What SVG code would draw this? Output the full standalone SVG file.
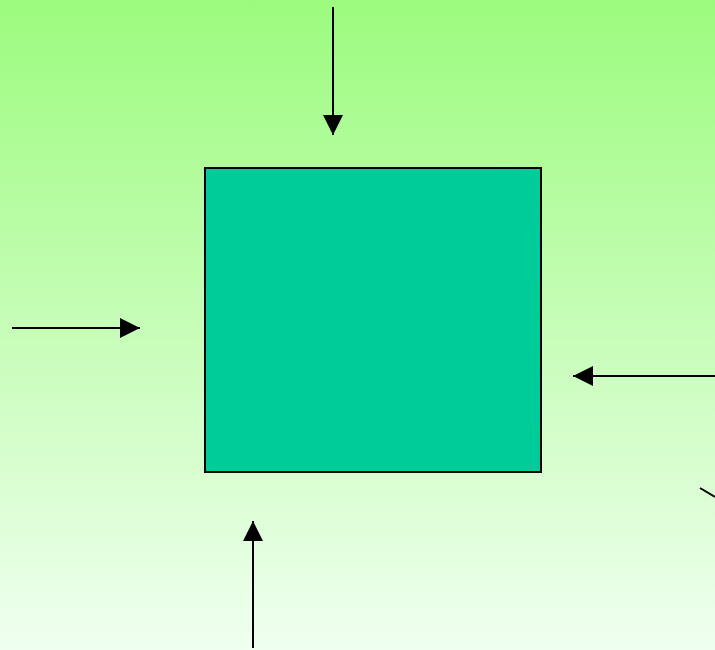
<svg xmlns="http://www.w3.org/2000/svg" width="715" height="650" viewBox="0 0 715 650">
<defs>
<linearGradient id="bg" x1="0" y1="0" x2="0" y2="1">
<stop offset="0" stop-color="#9CFB7E"/>
<stop offset="1" stop-color="#F0FFF0"/>
</linearGradient>
<marker id="ah" markerUnits="userSpaceOnUse" markerWidth="22" markerHeight="22" viewBox="0 0 22 22" refX="21" refY="11" orient="auto">
<path d="M1,1 L21,11 L1,21 Z" fill="#000"/>
</marker>
<style>
.c{stroke:#000;stroke-width:2;fill:none}
.a{marker-end:url(#ah)}
</style>
</defs>
<rect width="715" height="650" fill="url(#bg)"/>
<g id="node-box">
<rect x="205" y="168" width="336" height="304" fill="#00CC99" stroke="#000" stroke-width="2"/>
</g>
<g id="connectors">
<line class="c a" x1="333" y1="7" x2="333" y2="135"/>
<line class="c a" x1="12" y1="328" x2="140" y2="328"/>
<line class="c a" x1="715" y1="376" x2="573" y2="376"/>
<line class="c a" x1="253" y1="648" x2="253" y2="521"/>
<line class="c" x1="700" y1="488" x2="715" y2="497"/>
</g>
</svg>
